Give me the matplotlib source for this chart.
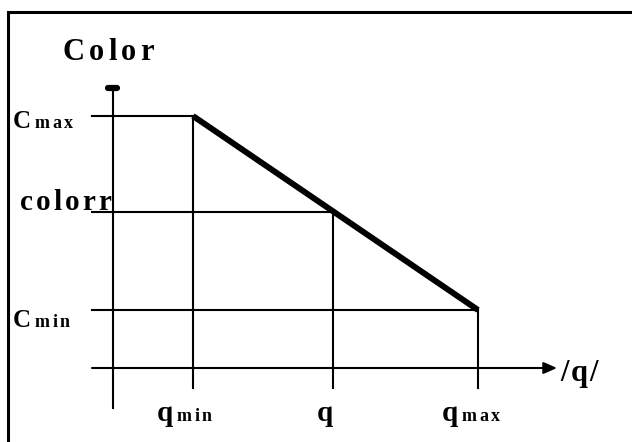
import numpy as np
import matplotlib as mpl
import matplotlib.pyplot as plt
from matplotlib.font_manager import FontProperties
from matplotlib.textpath import text_to_path

mpl.rcParams['font.family'] = ['Liberation Serif', 'DejaVu Serif']
mpl.rcParams['font.weight'] = 'bold'

# schematic values (q axis origin at 0, colour axis origin at 0)
q_vals = [80, 220, 365]          # qmin, q, qmax
q_subs = ['min', '', 'max']
c_vals = [252, 156, 58]          # Cmax, colorr, Cmin
c_names = ['C', 'colorr', 'C']
c_subs = ['max', '', 'min']

fig = plt.figure(figsize=(6.32, 4.42), dpi=100)
ax = fig.add_axes([0, 0, 1, 1])
ax.set_xlim(-113, 519)
ax.set_ylim(-74, 368)
ax.axis('off')

PX_PER_PT = fig.dpi / 72.0   # one data unit == one pixel here


def spaced(x, y, s, size, track):
    """draw s letter by letter with extra tracking (pixels) like the scan"""
    prop = FontProperties(family='Liberation Serif', weight='bold', size=size)
    for ch in s:
        ax.text(x, y, ch, fontproperties=prop, ha='left', va='baseline')
        w, _, _ = text_to_path.get_text_width_height_descent(ch, prop, ismath=False)
        x += w * PX_PER_PT + track
    return x


thin = 1.5
# frame (scanned box)
ax.plot([-105, -105, 530], [-80, 356, 356], color='black', lw=2.2, solid_joinstyle='miter')

# colour axis with cap at top
ax.plot([0, 0], [-40, 281], color='black', lw=thin)
ax.plot([-5, 4], [280, 280], color='black', lw=4.5, solid_capstyle='round')

# q axis with arrow
ax.annotate('', xy=(444, 0), xytext=(-21, 0),
            arrowprops=dict(arrowstyle='-|>,head_length=0.8,head_width=0.35',
                            color='black', lw=thin, shrinkA=0, shrinkB=0))
spaced(447, -13, '/q/', 22, 2)

# horizontal levels and vertical drops
for qv, cv in zip(q_vals, c_vals):
    ax.plot([-21, qv], [cv, cv], color='black', lw=thin)
    ax.plot([qv, qv], [cv, -20], color='black', lw=thin)

# colour ramp
ax.plot([q_vals[0], q_vals[2]], [c_vals[0], c_vals[2]], color='black', lw=4.3,
        solid_capstyle='butt')

# labels
spaced(-50, 308, 'Color', 22, 4)
spaced(-100, c_vals[0] - 12, c_names[0], 18, 0)
spaced(-78, c_vals[0] - 12, c_subs[0], 13, 2.2)
spaced(-93, c_vals[1] + 2, c_names[1], 21, 3)
spaced(-100, c_vals[2] - 17, c_names[2], 18, 0)
spaced(-78, c_vals[2] - 17, c_subs[2], 13, 2.2)

for qv, sub in zip(q_vals, q_subs):
    if sub:
        spaced(qv - 36, -53, 'q', 21, 0)
        spaced(qv - 16, -53, sub, 13, 2.2)
    else:
        spaced(qv - 16, -53, 'q', 21, 0)

fig.savefig('out.png', dpi=100, facecolor='white')
